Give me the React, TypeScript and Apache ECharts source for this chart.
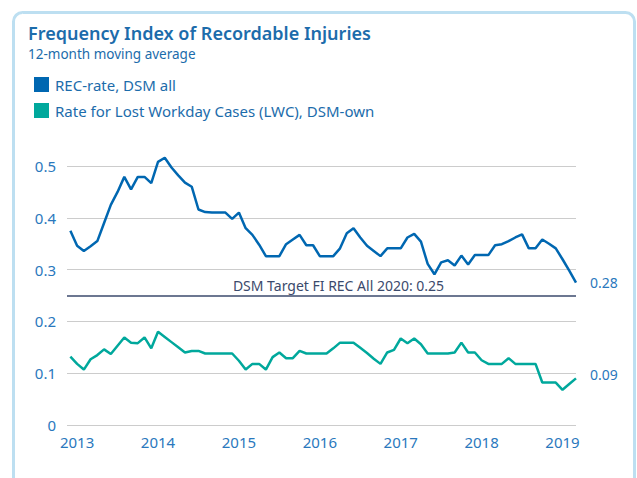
import { useEffect, useRef } from "react";
import * as echarts from "echarts";

// Monthly values, Dec 2012 .. Mar 2019 (12-month moving average)
const recRate = [
  0.375, 0.346, 0.336, 0.345, 0.355, 0.39, 0.425, 0.45, 0.479, 0.455, 0.479, 0.479,
  0.467, 0.508, 0.516, 0.497, 0.482, 0.468, 0.46, 0.416, 0.411, 0.41, 0.41, 0.41,
  0.398, 0.41, 0.38, 0.367, 0.348, 0.326, 0.326, 0.326, 0.349, 0.358, 0.367, 0.347,
  0.347, 0.326, 0.326, 0.326, 0.341, 0.37, 0.38, 0.362, 0.346, 0.336, 0.326, 0.341,
  0.341, 0.341, 0.362, 0.369, 0.354, 0.311, 0.291, 0.314, 0.318, 0.308, 0.327, 0.31,
  0.328, 0.328, 0.328, 0.347, 0.349, 0.355, 0.362, 0.368, 0.341, 0.341, 0.358, 0.35,
  0.341, 0.32, 0.298, 0.275,
];
const lwcRate = [
  0.132, 0.118, 0.107, 0.127, 0.135, 0.146, 0.137, 0.153, 0.169, 0.159, 0.158, 0.169,
  0.148, 0.18, 0.17, 0.16, 0.15, 0.14, 0.143, 0.143, 0.138, 0.138, 0.138, 0.138,
  0.138, 0.124, 0.107, 0.118, 0.118, 0.107, 0.131, 0.14, 0.129, 0.129, 0.143, 0.138,
  0.138, 0.138, 0.138, 0.148, 0.159, 0.159, 0.159, 0.149, 0.139, 0.128, 0.118, 0.14,
  0.145, 0.167, 0.158, 0.167, 0.156, 0.138, 0.138, 0.138, 0.138, 0.14, 0.159, 0.14,
  0.14, 0.125, 0.118, 0.118, 0.118, 0.129, 0.118, 0.118, 0.118, 0.118, 0.082, 0.082,
  0.082, 0.068, 0.079, 0.09,
];
const yearLabels = ["2013", "2014", "2015", "2016", "2017", "2018", "2019"];
const yearTickIndex = [1, 13, 25, 37, 49, 61, 73]; // months since Dec 2012
const seriesNames = ["REC-rate, DSM all", "Rate for Lost Workday Cases (LWC), DSM-own"];
const targetValue = 0.25;
const targetLabel = "DSM Target FI REC All 2020: 0.25";
const titleText = "Frequency Index of Recordable Injuries";
const subtitleText = "12-month moving average";

const FONT = "'Noto Sans', sans-serif";
const BLUE = "#0067b1";
const TEAL = "#00a89c";
const TEXT_BLUE = "#2a78bd";
const NAVY = "#3b4a6c";

export default function App() {
  const ref = useRef<HTMLDivElement>(null);
  useEffect(() => {
    if (!ref.current) return;
    const chart = echarts.init(ref.current, undefined, { renderer: "svg" });
    const endLabel = (dy: number) => ({
      show: true,
      distance: 14,
      offset: [0, dy],
      color: TEXT_BLUE,
      fontSize: 14,
      fontFamily: FONT,
      formatter: (p: any) => (Math.round(p.value[1] * 100) / 100).toFixed(2),
    });
    chart.setOption({
      animation: false,
      backgroundColor: "#ffffff",
      textStyle: { fontFamily: FONT },
      title: {
        text: titleText,
        subtext: subtitleText,
        left: 23,
        top: 19,
        itemGap: 5,
        textStyle: { fontSize: 18, fontWeight: 600, color: "#1c6cab", fontFamily: FONT },
        subtextStyle: { fontSize: 13.5, color: "#1c6cab", fontFamily: FONT },
      },
      legend: {
        orient: "vertical",
        left: 29,
        top: 72,
        itemWidth: 15,
        itemHeight: 15,
        itemGap: 11,
        icon: "rect",
        textStyle: { fontSize: 15, color: "#1c6cab", fontFamily: FONT, padding: [0, 0, 0, 1] },
        data: seriesNames,
      },
      graphic: [
        {
          type: "rect",
          shape: { x: 13.5, y: 12.5, width: 621, height: 520, r: 9 },
          style: { fill: "none", stroke: "#bddff1", lineWidth: 3 },
          silent: true,
        },
      ],
      grid: { left: 67, right: 61, top: 166, bottom: 53 },
      xAxis: {
        type: "value",
        min: -0.5,
        max: recRate.length - 1,
        axisLine: { show: false },
        axisTick: { show: false },
        splitLine: { show: false },
        axisLabel: {
          customValues: yearTickIndex,
          color: TEXT_BLUE,
          fontSize: 15,
          fontFamily: FONT,
          margin: 9,
          formatter: (v: number) => yearLabels[yearTickIndex.indexOf(Math.round(v))] ?? "",
        },
      },
      yAxis: {
        type: "value",
        min: 0,
        max: 0.5,
        interval: 0.1,
        axisLine: { show: false },
        axisTick: { show: false },
        splitLine: { lineStyle: { color: "#cccccc", width: 1 } },
        axisLabel: {
          color: TEXT_BLUE,
          fontSize: 15,
          fontFamily: FONT,
          margin: 11,
          formatter: (v: number) => (v === 0 ? "0" : v.toFixed(1)),
        },
      },
      series: [
        {
          name: seriesNames[0],
          type: "line",
          data: recRate.map((v, i) => [i, v]),
          showSymbol: false,
          symbol: "none",
          clip: false,
          color: BLUE,
          lineStyle: { color: BLUE, width: 2.5 },
          endLabel: endLabel(0),
          markLine: {
            silent: true,
            symbol: "none",
            lineStyle: { color: NAVY, width: 1.5, type: "solid" },
            label: {
              position: "insideMiddleTop",
              formatter: targetLabel,
              color: NAVY,
              fontSize: 14,
              fontFamily: FONT,
              distance: 3,
              offset: [17, 0],
            },
            data: [{ yAxis: targetValue }],
          },
          z: 3,
        },
        {
          name: seriesNames[1],
          type: "line",
          data: lwcRate.map((v, i) => [i, v]),
          showSymbol: false,
          symbol: "none",
          clip: false,
          color: TEAL,
          lineStyle: { color: TEAL, width: 2.5 },
          endLabel: endLabel(-4),
          z: 3,
        },
      ],
    });
    return () => chart.dispose();
  }, []);
  return (
    <div
      ref={ref}
      style={{ position: "fixed", left: 0, top: 0, width: 637, height: 478 }}
    />
  );
}
